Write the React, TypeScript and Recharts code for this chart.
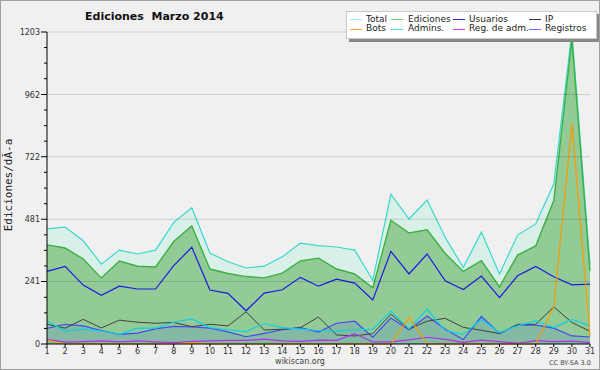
import React from "react";
import {
  ComposedChart,
  Area,
  Line,
  XAxis,
  YAxis,
  ReferenceLine,
} from "recharts";

// valores (marzo 2014)
const days = [
  1, 2, 3, 4, 5, 6, 7, 8, 9, 10, 11, 12, 13, 14, 15, 16, 17, 18, 19, 20, 21,
  22, 23, 24, 25, 26, 27, 28, 29, 30, 31,
];
const total = [
  444, 451, 398, 308, 362, 347, 362, 469, 525, 351, 317, 293, 300, 336, 389,
  379, 374, 362, 246, 578, 482, 555, 411, 295, 431, 270, 420, 463, 618, 1203,
  305,
];
const ediciones = [
  382, 370, 328, 254, 320, 300, 297, 395, 455, 289, 272, 260, 255, 273, 320,
  331, 289, 270, 217, 477, 428, 440, 349, 280, 321, 220, 343, 378, 553, 1175,
  282,
];
const usuarios = [
  280, 299, 227, 188, 223, 212, 212, 302, 373, 208, 195, 128, 196, 209, 257,
  223, 250, 235, 170, 357, 270, 347, 244, 210, 262, 179, 263, 299, 259, 228,
  231,
];
const ip = [
  76, 61, 95, 62, 92, 84, 80, 83, 67, 76, 70, 124, 54, 57, 63, 104, 35, 31, 40,
  115, 57, 88, 99, 64, 53, 40, 76, 76, 143, 83, 49,
];
const bots = [
  15, 0, 0, 0, 0, 0, 0, 0, 5, 0, 0, 0, 0, 0, 0, 0, 0, 0, 0, 0, 102, 0, 0, 0, 0,
  0, 0, 0, 143, 850, 30,
];
const admins = [
  89, 50, 57, 50, 37, 61, 61, 84, 97, 63, 55, 48, 79, 63, 57, 52, 50, 54, 57,
  127, 58, 134, 52, 37, 95, 44, 70, 89, 63, 95, 70,
];
const regAdm = [
  18, 7, 9, 12, 8, 12, 8, 5, 10, 12, 14, 14, 19, 12, 10, 15, 14, 40, 8, 8, 16,
  26, 18, 6, 15, 9, 3, 13, 9, 11, 5,
];
const registros = [
  60, 76, 70, 52, 37, 42, 58, 68, 66, 61, 47, 28, 41, 55, 63, 46, 80, 88, 26,
  100, 55, 108, 57, 17, 106, 41, 73, 73, 61, 31, 27,
];

const majorTicks = [0, 241, 481, 722, 962, 1203];
const yTicks = [
  0, 60, 120, 180, 241, 301, 361, 421, 481, 541, 601, 662, 722, 782, 842, 902,
  962, 1023, 1083, 1143, 1203,
];

const legendRow1 = ["Total", "Ediciones", "Usuarios", "IP"];
const legendRow2 = ["Bots", "Admins.", "Reg. de adm.", "Registros"];
const legendColors1 = ["#a8ece4", "#7cd07c", "#2a2aff", "#333333"];
const legendColors2 = ["#ffa020", "#40dce8", "#d040f0", "#6868ff"];
const legendLineX = [350, 391, 453, 529];
const legendTextX = [366, 408, 469, 545];

const data = days.map((d, i) => ({
  day: d,
  total: total[i],
  ediciones: ediciones[i],
  usuarios: usuarios[i],
  ip: ip[i],
  bots: bots[i],
  admins: admins[i],
  regAdm: regAdm[i],
  registros: registros[i],
}));

const YTick = (props: any) => {
  const { x, y, payload } = props;
  const major = majorTicks.includes(payload.value);
  return (
    <g>
      <line x1={x - (major ? 6 : 3)} x2={x} y1={y} y2={y} stroke="#000" />
      {major && (
        <text
          x={x - 7}
          y={y}
          dy={3}
          textAnchor="end"
          fontSize={8}
          fontFamily="DejaVu Sans"
          fill="#333"
        >
          {payload.value}
        </text>
      )}
    </g>
  );
};

const font = "DejaVu Sans";

export default function App() {
  return (
    <div
      style={{
        position: "absolute",
        left: 0,
        top: 0,
        width: 600,
        height: 370,
        background: "#f0f0f0",
        fontFamily: font,
      }}
    >
      <ComposedChart
        width={600}
        height={370}
        data={data}
        margin={{ top: 32, right: 10, bottom: 6, left: 0 }}
      >
        <XAxis
          dataKey="day"
          type="number"
          domain={[1, 31]}
          ticks={days}
          interval={0}
          height={20}
          stroke="#000"
          tickSize={3}
          tickMargin={1}
          tick={{ fontSize: 8, fill: "#333", fontFamily: font }}
        />
        <YAxis
          type="number"
          domain={[0, 1203]}
          ticks={yTicks}
          interval={0}
          width={47}
          stroke="#000"
          tickLine={false}
          tickSize={0}
          tickMargin={0}
          tick={<YTick />}
        />
        <Area
          dataKey="total"
          stroke="#38d8cc"
          strokeWidth={1.2}
          fill="#d9f0e9"
          fillOpacity={1}
          dot={false}
          activeDot={false}
          isAnimationActive={false}
        />
        <Area
          dataKey="ediciones"
          stroke="#3cb043"
          strokeWidth={1.4}
          fill="#92cb95"
          fillOpacity={1}
          dot={false}
          activeDot={false}
          isAnimationActive={false}
        />
        <Area
          dataKey="registros"
          stroke="#4848f8"
          strokeWidth={1.2}
          fill="#5078dc"
          fillOpacity={0.2}
          dot={false}
          activeDot={false}
          isAnimationActive={false}
        />
        <Line
          dataKey="ip"
          stroke="#404040"
          strokeWidth={1}
          dot={false}
          activeDot={false}
          isAnimationActive={false}
        />
        <Line
          dataKey="usuarios"
          stroke="#1a1ae6"
          strokeWidth={1.2}
          dot={false}
          activeDot={false}
          isAnimationActive={false}
        />
        <Line
          dataKey="admins"
          stroke="#10d0e4"
          strokeWidth={1.2}
          dot={false}
          activeDot={false}
          isAnimationActive={false}
        />
        <Line
          dataKey="regAdm"
          stroke="#b030f0"
          strokeWidth={1.2}
          dot={false}
          activeDot={false}
          isAnimationActive={false}
        />
        <Line
          dataKey="bots"
          stroke="#ff9900"
          strokeWidth={1.2}
          dot={false}
          activeDot={false}
          isAnimationActive={false}
        />
        {majorTicks.slice(1).map((v) => (
          <ReferenceLine key={v} y={v} stroke="rgba(0,0,0,0.14)" />
        ))}
      </ComposedChart>

      {/* titulo */}
      <div
        style={{
          position: "absolute",
          left: 85,
          top: 10,
          fontSize: 11,
          lineHeight: "13px",
          fontWeight: "bold",
          color: "#111",
          whiteSpace: "pre",
        }}
      >
        {"Ediciones  Marzo 2014"}
      </div>

      {/* leyenda */}
      <div
        style={{
          position: "absolute",
          left: 346,
          top: 11,
          width: 249,
          height: 26,
          background: "#fff",
          border: "1px solid #c8c8c8",
          boxShadow: "3px 3px 0 #888",
        }}
      />
      {[legendRow1, legendRow2].map((row, r) =>
        row.map((name, i) => {
          const color = (r === 0 ? legendColors1 : legendColors2)[i];
          const cy = r === 0 ? 19 : 28.5;
          return (
            <React.Fragment key={name}>
              <div
                style={{
                  position: "absolute",
                  left: legendLineX[i],
                  top: cy,
                  width: 12,
                  height: 1,
                  background: color,
                }}
              />
              <div
                style={{
                  position: "absolute",
                  left: legendTextX[i],
                  top: cy - 5.5,
                  fontSize: 9,
                  lineHeight: "11px",
                  color: "#222",
                  whiteSpace: "nowrap",
                }}
              >
                {name}
              </div>
            </React.Fragment>
          );
        })
      )}

      {/* etiqueta eje y */}
      <div
        style={{
          position: "absolute",
          left: 9,
          top: 185,
          transform: "translate(-50%, -50%) rotate(-90deg)",
          fontFamily: "DejaVu Sans Mono",
          fontSize: 11,
          lineHeight: "12px",
          color: "#222",
          whiteSpace: "nowrap",
        }}
      >
        Ediciones/dÃ-a
      </div>

      <div
        style={{
          position: "absolute",
          left: 300,
          top: 356,
          transform: "translateX(-50%)",
          fontSize: 8,
          lineHeight: "11px",
          color: "#444",
        }}
      >
        wikiscan.org
      </div>
      <div
        style={{
          position: "absolute",
          left: 549,
          top: 359,
          fontSize: 6.5,
          lineHeight: "8px",
          color: "#444",
          whiteSpace: "nowrap",
        }}
      >
        CC BY-SA 3.0
      </div>

      <div
        style={{
          position: "absolute",
          left: 0,
          top: 0,
          width: 600,
          height: 370,
          boxSizing: "border-box",
          border: "1px solid #a0a0a0",
          pointerEvents: "none",
        }}
      />
    </div>
  );
}
